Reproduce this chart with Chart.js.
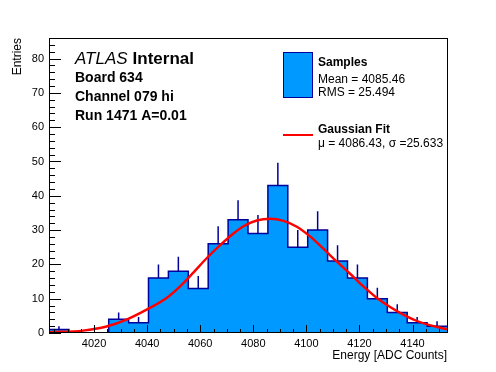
<!DOCTYPE html>
<html><head><meta charset="utf-8">
<script src="https://cdn.jsdelivr.net/npm/chart.js@4/dist/chart.umd.min.js"></script>
<style>html,body{margin:0;padding:0;background:#fff;} #wrap{width:496px;height:372px;}</style>
</head><body><div id="wrap"><canvas id="c" width="496" height="372"></canvas></div>
<script>
// ---- data ----
const binEdges = [4003, 4010.5, 4018, 4025.5, 4033, 4040.5, 4048, 4055.5, 4063, 4070.5, 4078,
                  4085.5, 4093, 4100.5, 4108, 4115.5, 4123, 4130.5, 4138, 4145.5, 4153];
const counts = [1, 0, 0, 4, 3, 16, 18, 13, 26, 33, 29, 43, 25, 30, 21, 16, 10, 6, 3, 2];
const errUp  = [1, 0, 0, 2, 1.7, 4, 4.2, 3.6, 5.1, 5.7, 5.4, 6.6, 5, 5.5, 4.6, 4, 3.2, 2.4, 1.7, 1.4];
const fitX = [4003.3, 4015.8, 4024.7, 4032.2, 4039.8, 4047.3, 4052.4, 4057.4, 4062.4, 4067.5, 4072.5,
              4076.5, 4081.3, 4086.3, 4091.4, 4096.4, 4101.5, 4106.5, 4111.5, 4116.6, 4121.6, 4126.6,
              4131.7, 4136.7, 4141.7, 4146.8, 4151.8, 4153];
const fitY = [0.25, 0.7, 1.9, 3.9, 6.8, 10.2, 13.6, 17.6, 21.8, 25.6, 29.0,
              31.2, 32.8, 33.3, 32.7, 31.0, 28.1, 24.5, 20.8, 17.2, 13.5, 10.2,
              7.5, 5.3, 3.5, 2.2, 1.3, 1.1];
const xTicks = [4020, 4040, 4060, 4080, 4100, 4120, 4140];
const yTicks = [0, 10, 20, 30, 40, 50, 60, 70, 80];
const xRange = [4003, 4153];
const yRange = [0, 86];

const FONT = '"Liberation Sans", Arial, Helvetica, sans-serif';
const FILL = '#0099ff';
const LINE = '#00009a';

const histData = binEdges.map((x, i) => ({x: x, y: i < counts.length ? counts[i] : counts[counts.length - 1]}));
const errData = [];
counts.forEach((c, i) => {
  if (c <= 0) return;
  const xc = (binEdges[i] + binEdges[i + 1]) / 2;
  errData.push({x: xc, y: c}, {x: xc, y: c + errUp[i]}, {x: xc, y: null});
});
const fitData = fitX.map((x, i) => ({x: x, y: fitY[i]}));

const rootPlugin = {
  id: 'rootStyle',
  afterDatasetsDraw(chart) {
    const ctx = chart.ctx, a = chart.chartArea;
    const xs = chart.scales.x, ys = chart.scales.y;
    ctx.save();
    ctx.strokeStyle = '#000';
    ctx.lineWidth = 1;
    ctx.beginPath();
    for (let v = 0; v <= yRange[1] + 1e-9; v += 2) {
      const y = Math.round(ys.getPixelForValue(v)) + 0.5;
      const len = (v % 10 === 0) ? 12 : 6;
      ctx.moveTo(a.left, y); ctx.lineTo(a.left + len, y);
    }
    for (let v = 4005; v <= xRange[1]; v += 5) {
      const x = Math.round(xs.getPixelForValue(v)) + 0.5;
      const len = (v % 20 === 0) ? 8 : 4;
      ctx.moveTo(x, a.bottom); ctx.lineTo(x, a.bottom - len);
    }
    ctx.stroke();
    ctx.strokeRect(Math.round(a.left) + 0.5, Math.round(a.top) + 0.5,
                   Math.round(a.right - a.left), Math.round(a.bottom - a.top) - 1);
    ctx.restore();
  },
  afterDraw(chart) {
    const ctx = chart.ctx;
    ctx.save();
    ctx.fillStyle = '#000';
    ctx.textBaseline = 'alphabetic';
    ctx.textAlign = 'left';
    ctx.font = 'italic 17px ' + FONT;
    ctx.fillText('ATLAS', 75, 64);
    const w = ctx.measureText('ATLAS').width;
    ctx.font = 'bold 17px ' + FONT;
    ctx.fillText('Internal', 75 + w + 5, 64);
    ctx.font = 'bold 14px ' + FONT;
    ctx.fillText('Board 634', 75, 82);
    ctx.fillText('Channel 079 hi', 75, 101);
    ctx.fillText('Run 1471 A=0.01', 75, 120);
    ctx.fillStyle = FILL;
    ctx.fillRect(283, 52, 29, 45);
    ctx.strokeStyle = LINE; ctx.lineWidth = 1;
    ctx.strokeRect(283.5, 52.5, 29, 45);
    ctx.strokeStyle = '#ff0000'; ctx.lineWidth = 2;
    ctx.beginPath(); ctx.moveTo(283, 135); ctx.lineTo(313, 135); ctx.stroke();
    ctx.fillStyle = '#000';
    ctx.font = 'bold 12px ' + FONT;
    ctx.fillText('Samples', 318, 66);
    ctx.fillText('Gaussian Fit', 318, 133);
    ctx.font = '12px ' + FONT;
    ctx.fillText('Mean = 4085.46', 318, 83);
    ctx.fillText('RMS = 25.494', 318, 96);
    ctx.fillText('\u03bc = 4086.43, \u03c3 =25.633', 318, 147);
    ctx.restore();
  }
};

new Chart(document.getElementById('c'), {
  type: 'line',
  data: {
    datasets: [
      {label: 'Samples', data: histData, stepped: 'before', fill: 'origin',
       backgroundColor: FILL, borderColor: LINE, borderWidth: 1.5, pointRadius: 0, order: 3},
      {label: 'errors', data: errData, spanGaps: false, fill: false,
       borderColor: LINE, borderWidth: 1.5, pointRadius: 0, order: 2},
      {label: 'Gaussian Fit', data: fitData, fill: false, cubicInterpolationMode: 'monotone',
       borderColor: '#ff0000', borderWidth: 2.4, pointRadius: 0, order: 1}
    ]
  },
  options: {
    responsive: false, animation: false, devicePixelRatio: 1,
    layout: {padding: {left: 0, top: 38, right: 49, bottom: 0}},
    plugins: {legend: {display: false}, tooltip: {enabled: false}},
    scales: {
      x: {
        type: 'linear', min: xRange[0], max: xRange[1],
        afterBuildTicks: s => { s.ticks = xTicks.map(v => ({value: v})); },
        afterFit: s => { s.height = 39; },
        grid: {display: false, drawTicks: false},
        border: {display: false},
        ticks: {padding: 4, maxRotation: 0, autoSkip: false, color: '#000',
                font: {family: FONT, size: 11}, callback: v => String(v)},
        title: {display: true, text: 'Energy [ADC Counts]', align: 'end', color: '#000',
                font: {family: FONT, size: 12}, padding: {top: 0, bottom: 9}}
      },
      y: {
        type: 'linear', min: yRange[0], max: yRange[1],
        afterBuildTicks: s => { s.ticks = yTicks.map(v => ({value: v})); },
        afterFit: s => { s.width = 49; },
        grid: {display: false, drawTicks: false},
        border: {display: false},
        ticks: {padding: 5, color: '#000', font: {family: FONT, size: 11}},
        title: {display: true, text: 'Entries', align: 'end', color: '#000',
                font: {family: FONT, size: 12}, padding: {top: 10, bottom: 0}}
      }
    }
  },
  plugins: [rootPlugin]
});
</script>
</body></html>
